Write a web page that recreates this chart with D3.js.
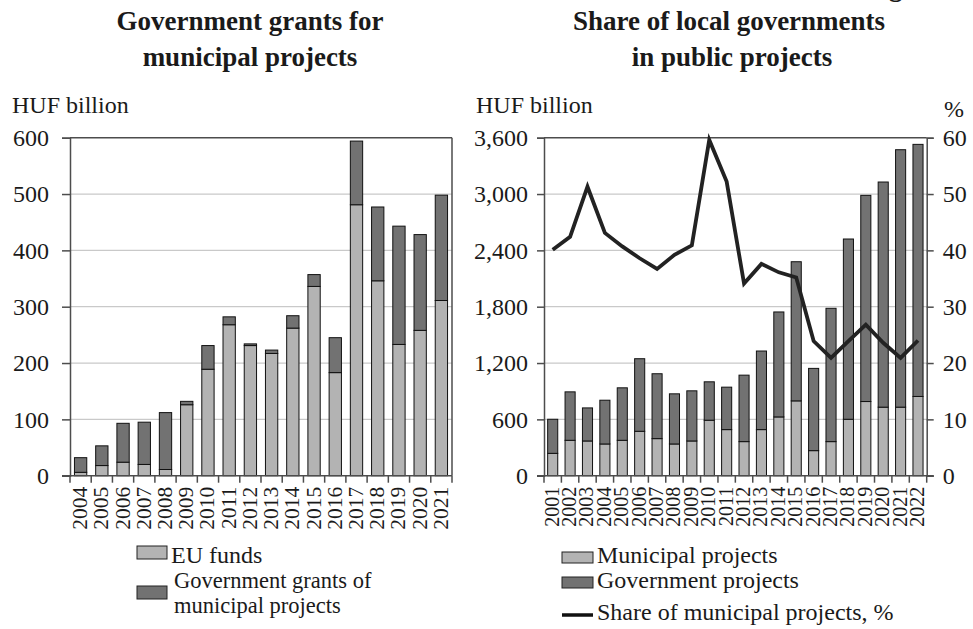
<!DOCTYPE html>
<html>
<head>
<meta charset="utf-8">
<script src="https://cdn.jsdelivr.net/npm/d3@7"></script>
<style>
  body { margin: 0; background: #fff; }
</style>
</head>
<body>
<svg id="chart"></svg>
<script>
// left panel: government grants for municipal projects
var grantYears = ["2004","2005","2006","2007","2008","2009","2010","2011","2012",
  "2013","2014","2015","2016","2017","2018","2019","2020","2021"];
var euFunds = [6, 18, 24, 20, 11, 126, 189, 268, 231, 217, 262, 336, 183, 481, 346, 233, 258, 311];
var govGrants = [26, 35, 69, 75, 101, 6, 42, 14, 3, 6, 22, 21, 62, 113, 131, 210, 170, 187];
var grantTicks = [0, 100, 200, 300, 400, 500, 600];

// right panel: share of local governments in public projects
var projectYears = ["2001","2002","2003","2004","2005","2006","2007","2008","2009","2010","2011",
  "2012","2013","2014","2015","2016","2017","2018","2019","2020","2021","2022"];
var municipalProjects = [238, 377, 370, 338, 377, 473, 395, 338, 370, 591, 491, 363, 491, 626, 797, 267, 363, 601, 790, 730, 730, 844];
var governmentProjects = [363, 516, 352, 466, 559, 773, 691, 534, 534, 409, 452, 708, 837, 1118, 1482, 876, 1420, 1920, 2196, 2398, 2742, 2685];
var municipalShare = [40.1, 42.4, 51.3, 43.1, 40.7, 38.6, 36.7, 39.2, 40.9, 59.6, 52.2, 34.1, 37.6, 36.1, 35.2, 23.9, 20.9, 23.9, 26.8, 23.6, 20.9, 24.0];
var projectTicks = [0, 600, 1200, 1800, 2400, 3000, 3600];
var shareTicks = [0, 10, 20, 30, 40, 50, 60];

var lightGrey = "#b3b3b3";
var darkGrey = "#727272";
var axisColor = "#4d4d4d";
var gridColor = "#c9c9c9";
var serif = "'Liberation Serif', 'DejaVu Serif', serif";

var screen = { width: 973, height: 629 };
var svg = d3.select("#chart").attr("width", screen.width).attr("height", screen.height)
  .style("font-family", serif);

var top0 = 137.7, bottom0 = 475.7;

//sets the look of a text element
var textStyle = function (sel, size, weight) {
  return sel
    .attr("font-family", null).attr("font-size", null)
    .style("font-family", serif)
    .style("font-size", size + "px")
    .style("font-weight", weight || "normal")
    .style("fill", "#1a1a1a");
};

// draws the stacked bars, frame, grid and axes of one panel
var drawPanel = function (opts) {
  var g = svg.append("g");

  var xScale = d3.scaleBand()
    .domain(opts.years)
    .range([opts.left, opts.right])
    .paddingInner(0.42)
    .paddingOuter(0.21);

  var yScale = d3.scaleLinear()
    .domain([0, opts.max])
    .range([bottom0, top0]);

  // grid lines
  g.append("g").selectAll("line")
    .data(opts.ticks.slice(1, -1))
    .enter().append("line")
    .attr("x1", opts.left).attr("x2", opts.right)
    .attr("y1", function (d) { return yScale(d); })
    .attr("y2", function (d) { return yScale(d); })
    .style("stroke", gridColor).style("stroke-width", 1.2);

  // bars
  var rows = opts.years.map(function (y, i) {
    return { year: y, low: opts.low[i], high: opts.high[i] };
  });
  var bars = g.append("g").selectAll("g").data(rows).enter().append("g");
  bars.append("rect")
    .attr("x", function (d) { return xScale(d.year); })
    .attr("width", xScale.bandwidth())
    .attr("y", function (d) { return yScale(d.low); })
    .attr("height", function (d) { return bottom0 - yScale(d.low); })
    .style("fill", lightGrey).style("stroke", "#111").style("stroke-width", 1);
  bars.append("rect")
    .attr("x", function (d) { return xScale(d.year); })
    .attr("width", xScale.bandwidth())
    .attr("y", function (d) { return yScale(d.low + d.high); })
    .attr("height", function (d) { return yScale(d.low) - yScale(d.low + d.high); })
    .style("fill", darkGrey).style("stroke", "#111").style("stroke-width", 1);

  // frame: top and right edges
  g.append("line").attr("x1", opts.left).attr("x2", opts.right)
    .attr("y1", top0).attr("y2", top0)
    .style("stroke", axisColor).style("stroke-width", 1.5);
  if (!opts.rightAxis) {
    g.append("line").attr("x1", opts.right).attr("x2", opts.right)
      .attr("y1", top0).attr("y2", bottom0)
      .style("stroke", axisColor).style("stroke-width", 1.5);
  }

  // left axis
  var yAxis = d3.axisLeft(yScale).tickValues(opts.ticks).tickSize(opts.tickLen)
    .tickPadding(opts.labelPad).tickFormat(d3.format(","));
  var ya = g.append("g").attr("transform", "translate(" + opts.left + ",0)").call(yAxis);
  ya.select(".domain").style("stroke", axisColor).style("stroke-width", 1.5);
  ya.selectAll(".tick line").style("stroke", axisColor).style("stroke-width", 1.5);
  ya.attr("font-family", null).attr("font-size", null);
  textStyle(ya.selectAll("text"), 24);

  // bottom axis: ticks between bars
  var step = xScale.step();
  var xa = g.append("g");
  xa.append("line").attr("x1", opts.left - opts.tickLen).attr("x2", opts.right + (opts.rightAxis ? 7 : 0))
    .attr("y1", bottom0).attr("y2", bottom0)
    .style("stroke", axisColor).style("stroke-width", 1.5);
  xa.selectAll(".xt").data(d3.range(opts.years.length + 1)).enter().append("line")
    .attr("x1", function (i) { return opts.left + i * step; })
    .attr("x2", function (i) { return opts.left + i * step; })
    .attr("y1", bottom0).attr("y2", bottom0 + 7)
    .style("stroke", axisColor).style("stroke-width", 1.5);
  var yl = xa.selectAll("text").data(opts.years).enter().append("text")
    .attr("text-anchor", "end")
    .attr("dy", "0.35em")
    .attr("transform", function (d) {
      return "translate(" + (xScale(d) + xScale.bandwidth() / 2 - 1) + "," + (bottom0 + 11) + ") rotate(-90)";
    })
    .text(function (d) { return d; });
  textStyle(yl, opts.yearSize);

  return { x: xScale, y: yScale };
};

var addText = function (x, y, str, size, weight, anchor) {
  var t = svg.append("text").attr("x", x).attr("y", y)
    .attr("text-anchor", anchor || "start").text(str);
  return textStyle(t, size, weight);
};

// ---- left panel ----
var left = drawPanel({
  years: grantYears, low: euFunds, high: govGrants, ticks: grantTicks, max: 600,
  left: 70, right: 452, tickLen: 8, labelPad: 13, yearSize: 21.5, rightAxis: false
});

addText(250, 30, "Government grants for", 27, "bold", "middle");
addText(250, 66, "municipal projects", 27, "bold", "middle");
addText(12, 113, "HUF billion", 24);

// legend left
var legL = svg.append("g");
legL.append("rect").attr("x", 137).attr("y", 546).attr("width", 30).attr("height", 13)
  .style("fill", lightGrey).style("stroke", "#222");
addText(171, 563, "EU funds", 24);
legL.append("rect").attr("x", 137).attr("y", 586).attr("width", 30).attr("height", 13)
  .style("fill", darkGrey).style("stroke", "#222");
var wrapped = addText(174, 588, "", 22.5);
wrapped.append("tspan").attr("x", 174).text("Government grants of");
wrapped.append("tspan").attr("x", 174).attr("dy", 25).text("municipal projects");

// ---- right panel ----
var right = drawPanel({
  years: projectYears, low: municipalProjects, high: governmentProjects, ticks: projectTicks, max: 3600,
  left: 544, right: 926.7, tickLen: 7, labelPad: 9, yearSize: 20, rightAxis: true
});

var shareScale = d3.scaleLinear().domain([0, 60]).range([bottom0, top0]);
var rAxis = d3.axisRight(shareScale).tickValues(shareTicks).tickSize(7).tickPadding(9);
var ra = svg.append("g").attr("transform", "translate(926.7,0)").call(rAxis);
ra.select(".domain").style("stroke", axisColor).style("stroke-width", 1.5);
ra.selectAll(".tick line").style("stroke", axisColor).style("stroke-width", 1.5);
ra.attr("font-family", null).attr("font-size", null);
textStyle(ra.selectAll("text"), 24);

var shareLine = d3.line()
  .x(function (d, i) { return right.x(projectYears[i]) + right.x.bandwidth() / 2; })
  .y(function (d) { return shareScale(d); });
svg.append("path").datum(municipalShare)
  .attr("d", shareLine)
  .style("fill", "none").style("stroke", "#222").style("stroke-width", 3.8)
  .style("stroke-linejoin", "miter");

addText(729, 30, "Share of local governments", 27, "bold", "middle");
addText(732, 66, "in public projects", 27, "bold", "middle");
addText(889, -4, "g", 27, "bold");
addText(476, 113, "HUF billion", 24);
addText(944, 117, "%", 24);

// legend right
var legR = svg.append("g");
legR.append("rect").attr("x", 562).attr("y", 552).attr("width", 31).attr("height", 11)
  .style("fill", lightGrey).style("stroke", "#222");
addText(597, 563, "Municipal projects", 24);
legR.append("rect").attr("x", 562).attr("y", 577).attr("width", 31).attr("height", 11)
  .style("fill", darkGrey).style("stroke", "#222");
addText(597, 588, "Government projects", 24);
legR.append("line").attr("x1", 562).attr("x2", 593).attr("y1", 615).attr("y2", 615)
  .style("stroke", "#111").style("stroke-width", 3.5);
addText(597, 620, "Share of municipal projects, %", 24);
</script>
</body>
</html>
